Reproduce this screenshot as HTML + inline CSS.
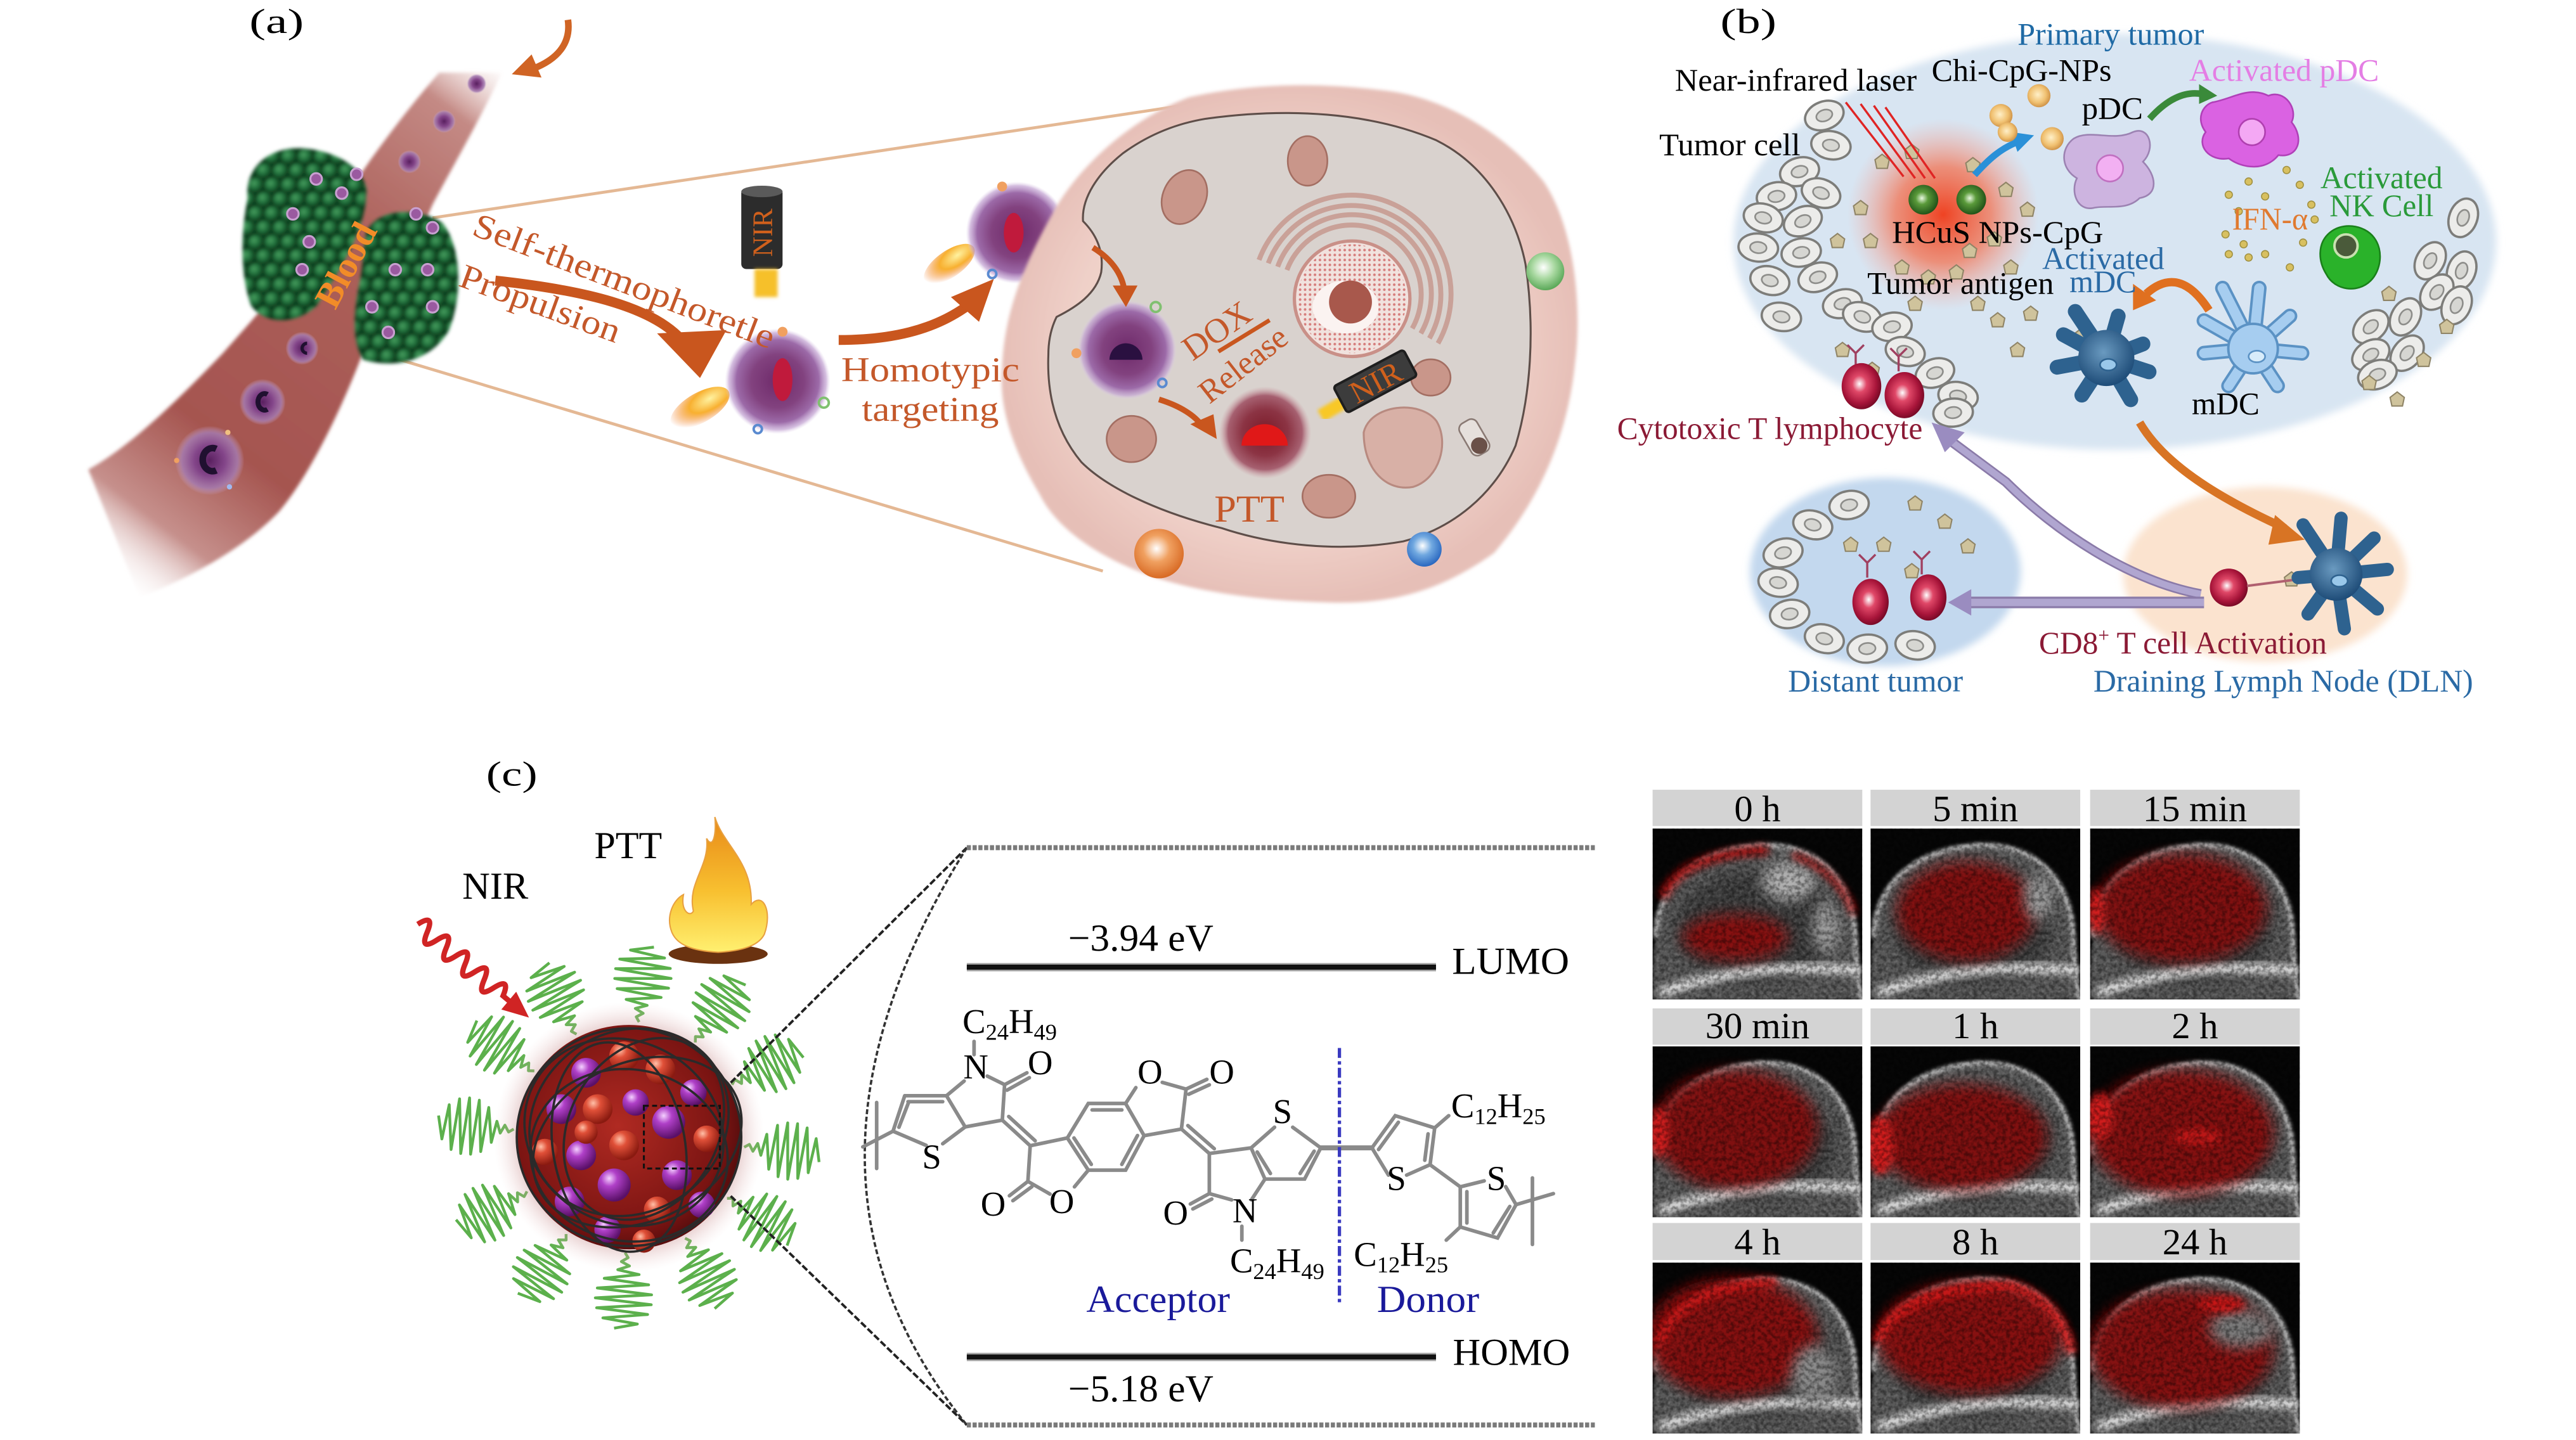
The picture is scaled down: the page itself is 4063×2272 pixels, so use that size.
<!DOCTYPE html>
<html><head><meta charset="utf-8">
<style>
html,body{margin:0;padding:0;background:#fff;}
svg{display:block;}
text{font-family:"Liberation Serif","Noto Serif CJK SC",serif;}
</style></head><body>
<svg width="4063" height="2272" viewBox="0 0 1560.3 872.5" preserveAspectRatio="none">
<defs>
<filter id="b1" x="-20%" y="-20%" width="140%" height="140%"><feGaussianBlur stdDeviation="1"/></filter>
<filter id="b2" x="-30%" y="-30%" width="160%" height="160%"><feGaussianBlur stdDeviation="2.2"/></filter>
<filter id="b4" x="-40%" y="-40%" width="180%" height="180%"><feGaussianBlur stdDeviation="4"/></filter>
<filter id="b6" x="-40%" y="-40%" width="180%" height="180%"><feGaussianBlur stdDeviation="6"/></filter>
<filter id="grainD" x="0" y="0" width="127" height="104" filterUnits="userSpaceOnUse"><feTurbulence type="fractalNoise" baseFrequency="0.4" numOctaves="2" seed="5"/><feColorMatrix type="matrix" values="0 0 0 0 0  0 0 0 0 0  0 0 0 0 0  2.6 0 0 0 -0.95"/></filter>
<filter id="grainW" x="0" y="0" width="127" height="104" filterUnits="userSpaceOnUse"><feTurbulence type="fractalNoise" baseFrequency="0.45" numOctaves="2" seed="11"/><feColorMatrix type="matrix" values="0 0 0 0 1  0 0 0 0 1  0 0 0 0 1  0 2.6 0 0 -1.15"/></filter>
<linearGradient id="vessel" gradientUnits="userSpaceOnUse" x1="300" y1="38" x2="62" y2="350">
 <stop offset="0" stop-color="#e0bdb9" stop-opacity="0"/>
 <stop offset="0.1" stop-color="#c48a85"/>
 <stop offset="0.35" stop-color="#ab5f59"/>
 <stop offset="0.72" stop-color="#a55550"/>
 <stop offset="0.88" stop-color="#c6908c"/>
 <stop offset="1" stop-color="#ffffff" stop-opacity="0"/>
</linearGradient>
<radialGradient id="gsph" cx="0.38" cy="0.35" r="0.65"><stop offset="0" stop-color="#4aa262"/><stop offset="0.55" stop-color="#1d6b38"/><stop offset="1" stop-color="#0b3519"/></radialGradient>
<pattern id="tumorPat" width="10" height="17.3" patternUnits="userSpaceOnUse">
 <rect width="10" height="17.3" fill="#0f3d1d"/>
 <circle cx="0" cy="0" r="4.8" fill="url(#gsph)"/><circle cx="10" cy="0" r="4.8" fill="url(#gsph)"/>
 <circle cx="5" cy="8.65" r="4.8" fill="url(#gsph)"/>
 <circle cx="0" cy="17.3" r="4.8" fill="url(#gsph)"/><circle cx="10" cy="17.3" r="4.8" fill="url(#gsph)"/>
</pattern>
<radialGradient id="pcell"><stop offset="0" stop-color="#5a2060"/><stop offset="0.45" stop-color="#84468a"/><stop offset="0.8" stop-color="#a47ab0" stop-opacity="0.85"/><stop offset="1" stop-color="#c8a8d0" stop-opacity="0"/></radialGradient>
<radialGradient id="np"><stop offset="0" stop-color="#6e2a6a"/><stop offset="0.5" stop-color="#82427f"/><stop offset="0.78" stop-color="#9c6aa8"/><stop offset="0.92" stop-color="#c2a2d2" stop-opacity="0.7"/><stop offset="1" stop-color="#e0d0ea" stop-opacity="0"/></radialGradient>
<radialGradient id="npr"><stop offset="0" stop-color="#7a1a28"/><stop offset="0.5" stop-color="#8c3444"/><stop offset="0.8" stop-color="#a66070"/><stop offset="1" stop-color="#d0a0a8" stop-opacity="0"/></radialGradient>
<radialGradient id="cellOut" cx="0.5" cy="0.5" r="0.5"><stop offset="0" stop-color="#f5e0d9"/><stop offset="0.75" stop-color="#efd0c8"/><stop offset="1" stop-color="#e6bfb7"/></radialGradient>
<radialGradient id="flame" cx="0.7" cy="0.4" r="0.7"><stop offset="0" stop-color="#fff2a0"/><stop offset="0.5" stop-color="#f8b030"/><stop offset="1" stop-color="#f07020" stop-opacity="0"/></radialGradient>
<radialGradient id="sGreen" cx="0.45" cy="0.4" r="0.6"><stop offset="0" stop-color="#ffffff"/><stop offset="0.5" stop-color="#a8d8a0"/><stop offset="1" stop-color="#5aa858"/></radialGradient>
<radialGradient id="sOrange" cx="0.45" cy="0.4" r="0.6"><stop offset="0" stop-color="#ffffff"/><stop offset="0.45" stop-color="#f0a060"/><stop offset="1" stop-color="#d86a24"/></radialGradient>
<radialGradient id="sBlue" cx="0.45" cy="0.4" r="0.6"><stop offset="0" stop-color="#ffffff"/><stop offset="0.45" stop-color="#70a8e0"/><stop offset="1" stop-color="#2a68c0"/></radialGradient>
<pattern id="rdots" width="3" height="3" patternUnits="userSpaceOnUse"><circle cx="1.5" cy="1.5" r="0.8" fill="#c84848"/></pattern>
<radialGradient id="glowRed"><stop offset="0" stop-color="#f03a18" stop-opacity="0.95"/><stop offset="0.5" stop-color="#f46a46" stop-opacity="0.7"/><stop offset="1" stop-color="#f8a090" stop-opacity="0"/></radialGradient>
<radialGradient id="ctl" cx="0.45" cy="0.45" r="0.6"><stop offset="0" stop-color="#ffffff"/><stop offset="0.3" stop-color="#e04868"/><stop offset="0.7" stop-color="#a8153a"/><stop offset="1" stop-color="#6a0620"/></radialGradient>
<radialGradient id="hcus" cx="0.45" cy="0.45" r="0.6"><stop offset="0" stop-color="#e8f8e0"/><stop offset="0.35" stop-color="#5a9a3a"/><stop offset="1" stop-color="#1a4a14"/></radialGradient>
<radialGradient id="cpg" cx="0.45" cy="0.45" r="0.6"><stop offset="0" stop-color="#fff0c8"/><stop offset="0.6" stop-color="#f0c070"/><stop offset="1" stop-color="#c88a40"/></radialGradient>
<radialGradient id="dcDark" cx="0.45" cy="0.4" r="0.6"><stop offset="0" stop-color="#6a9ac0"/><stop offset="1" stop-color="#1e4c78"/></radialGradient>
<radialGradient id="sphBase" cx="0.45" cy="0.45" r="0.55"><stop offset="0" stop-color="#b02a22"/><stop offset="0.85" stop-color="#7a1412"/><stop offset="1" stop-color="#5a0e0e"/></radialGradient>
<radialGradient id="halo"><stop offset="0.7" stop-color="#b06a6a" stop-opacity="0.7"/><stop offset="1" stop-color="#f0d0d0" stop-opacity="0"/></radialGradient>
<radialGradient id="rball" cx="0.35" cy="0.3" r="0.7"><stop offset="0" stop-color="#ffc0a8"/><stop offset="0.35" stop-color="#e05038"/><stop offset="1" stop-color="#8a1a10"/></radialGradient>
<radialGradient id="pball" cx="0.35" cy="0.3" r="0.7"><stop offset="0" stop-color="#f4d0ff"/><stop offset="0.35" stop-color="#b040c8"/><stop offset="1" stop-color="#5a1068"/></radialGradient>
<linearGradient id="fire" x1="0" y1="1" x2="0" y2="0"><stop offset="0" stop-color="#fff070"/><stop offset="0.45" stop-color="#f8c030"/><stop offset="1" stop-color="#e88a18"/></linearGradient>
<g id="tc"><ellipse rx="12" ry="8.5" fill="#ececea" stroke="#7d7d7a" stroke-width="1.4"/><ellipse rx="5" ry="3.4" fill="#d6d6d2" stroke="#8d8d8a" stroke-width="1"/></g>
<path id="ag" d="M0,-4.5 L4.3,-1.2 L3.2,4 L-3.2,4 L-4.3,-1.2 Z" fill="#cfc39c" stroke="#8f8466" stroke-width="0.8"/>
<path id="zz" d="M0,0 L3,-2 L5.5,2 L8,-3 L10.5,4 L13,-9 L16,12 L19,-15 L22,16 L25,-17 L28,17 L31,-17 L34,16 L37,-15 L40,12 L43,-9 L46,5" fill="none" stroke="#5cb04c" stroke-width="1.7" stroke-linejoin="round"/>
<clipPath id="tclip"><rect x="0" y="0" width="127" height="103.5"/></clipPath>
<clipPath id="domeclip"><path d="M2,66 C2,32 30,11 68,10 C100,10 118,30 122,56 C124,76 123,92 127,104 L0,104 L0,80 Z"/></clipPath>
<g id="tb">
 <rect width="127" height="104" fill="#060606"/>
 <path d="M2,66 C2,32 30,11 68,10 C100,10 118,30 122,56 C124,76 123,92 127,104 L0,104 L0,80 Z" fill="#5a5a5a" filter="url(#b1)"/>
 <path d="M2,66 C2,32 30,11 68,10 C100,10 118,30 122,56 C124,76 123,92 127,104" fill="none" stroke="#b4b4b4" stroke-width="3" filter="url(#b1)"/>
 <ellipse cx="62" cy="60" rx="48" ry="34" fill="#3c3c3c" filter="url(#b4)"/>
 <path d="M4,100 Q55,80 126,86" fill="none" stroke="#e6e6e6" stroke-width="6" filter="url(#b2)"/>
 <g clip-path="url(#domeclip)"><rect width="127" height="104" filter="url(#grainW)" opacity="0.12"/></g>
</g>
<g id="tn">
 <rect width="127" height="104" filter="url(#grainD)" opacity="0.4"/>
</g>
</defs>

<rect width="1560.3" height="872.5" fill="#fff"/>

<!-- ================= PANEL A ================= -->
<text x="151" y="20" font-size="21" textLength="33" lengthAdjust="spacingAndGlyphs">(a)</text>

<path d="M304,44 C292,70 272,105 262,124 C255,140 250,150 245,158 L219.7,214 C210,240 190,285 169,310 C150,330 120,348 84.5,362 L53.5,284.5 C80,270 110,240 135,214 C150,197 160,186 169,174.6 C188,150 205,125 225,96 C238,78 252,60 266,44 Z" fill="url(#vessel)" filter="url(#b1)"/>
<path d="M344,12 C346,26 338,36 322,42" fill="none" stroke="#d06424" stroke-width="4"/>
<polygon points="310,45 322,33 328,47" fill="#d06424"/>

<line x1="262" y1="132" x2="716" y2="64" stroke="#e4b894" stroke-width="1.8"/>
<line x1="239" y1="217" x2="668" y2="346" stroke="#e4b894" stroke-width="1.8"/>

<g>
 <circle cx="288.7" cy="50.7" r="6" fill="url(#pcell)"/>
 <circle cx="269" cy="73.5" r="7" fill="url(#pcell)"/>
 <circle cx="248" cy="98" r="7" fill="url(#pcell)"/>
 <circle cx="183" cy="211" r="10" fill="url(#pcell)"/>
 <circle cx="159" cy="243.6" r="14" fill="url(#pcell)"/>
 <circle cx="127" cy="279" r="21" fill="url(#pcell)"/>
 <path d="M186,208 a3,3 0 1 0 0,6" fill="none" stroke="#201030" stroke-width="2"/>
 <path d="M162,239 a4,5 0 1 0 0,9" fill="none" stroke="#201030" stroke-width="3"/>
 <path d="M131,272 a6,7 0 1 0 0,13" fill="none" stroke="#201030" stroke-width="4"/>
 <circle cx="138" cy="262" r="1.6" fill="#f0c080"/><circle cx="107" cy="279" r="1.6" fill="#f0a060"/><circle cx="139" cy="295" r="1.6" fill="#a0b8f0"/>
</g>

<g filter="url(#b1)">
<path d="M150,120 C148,100 165,88 185,90 C205,92 220,102 222,115 C222,140 205,165 192,185 C180,197 160,197 152,185 C145,165 146,140 150,120 Z" fill="url(#tumorPat)"/>
<path d="M222,140 C230,125 255,126 268,135 C280,150 280,180 272,200 C262,218 240,224 220,218 C212,205 215,185 218,170 C220,160 220,150 222,140 Z" fill="url(#tumorPat)"/>
</g>
<g fill="#9a5aa0" stroke="#c8a0d0" stroke-width="1.2">
 <circle cx="191.5" cy="108.4" r="3.5"/><circle cx="207" cy="117" r="3.5"/><circle cx="177.4" cy="129.6" r="3.5"/>
 <circle cx="187.3" cy="146.5" r="3.5"/><circle cx="183" cy="163.4" r="3.5"/><circle cx="262" cy="138" r="3.5"/>
 <circle cx="239.4" cy="163.4" r="3.5"/><circle cx="259" cy="163.4" r="3.5"/><circle cx="225.3" cy="185.9" r="3.5"/>
 <circle cx="262" cy="185.9" r="3.5"/><circle cx="235.2" cy="201.4" r="3.5"/><circle cx="252" cy="129.6" r="3.5"/>
 <circle cx="216" cy="105.6" r="3.5"/>
</g>
<text x="0" y="0" font-size="22" font-weight="bold" fill="#f28c28" text-anchor="middle" transform="translate(216,164) rotate(-62)">Blood</text>

<path d="M300,170 C355,176 395,186 413,206" fill="none" stroke="#c9561e" stroke-width="6"/>
<polygon points="398,202 440,200 424,229" fill="#c9561e"/>

<rect x="449" y="114" width="25" height="49" rx="3" fill="#2c2c2c"/>
<ellipse cx="461.5" cy="116" rx="12.5" ry="3.5" fill="#5a5a5a"/>
<rect x="457" y="163" width="14" height="17" fill="#f6c02c" filter="url(#b1)"/>
<text x="0" y="0" font-size="17" fill="#d0601c" text-anchor="middle" transform="translate(467.5,141) rotate(-90)">NIR</text>

<ellipse cx="424" cy="247" rx="20" ry="9" fill="url(#flame)" transform="rotate(-30 424 247)"/>
<circle cx="471" cy="231" r="32" fill="url(#np)"/>
<ellipse cx="474" cy="230" rx="6" ry="13" fill="#c01a3c"/>
<circle cx="474" cy="201" r="3" fill="#f0a060"/><circle cx="499" cy="244" r="3" fill="none" stroke="#80c070" stroke-width="1.5"/><circle cx="459" cy="260" r="2.5" fill="none" stroke="#5a8ad0" stroke-width="1.5"/>

<path d="M508,206 C540,206 565,200 585,186" fill="none" stroke="#c9561e" stroke-width="6"/>
<polygon points="576,180 602,169 593,195" fill="#c9561e"/>

<ellipse cx="575" cy="160" rx="18" ry="8" fill="url(#flame)" transform="rotate(-35 575 160)"/>
<circle cx="616" cy="141" r="31" fill="url(#np)"/>
<ellipse cx="614" cy="141" rx="6" ry="12" fill="#c01a3c"/>
<circle cx="607" cy="113" r="3" fill="#f0a060"/><circle cx="646" cy="153" r="3" fill="none" stroke="#80c070" stroke-width="1.5"/><circle cx="601" cy="166" r="2.5" fill="none" stroke="#5a8ad0" stroke-width="1.5"/>

<path d="M720,59 C760,50 800,50 840,55 C880,60 915,85 935,110 C955,140 958,190 954,220 C950,260 935,300 905,335 C870,360 840,366 805,365 C760,364 725,358 700,350 C665,338 640,320 630,300 C612,270 605,245 607,223 C608,190 620,160 640,125 C655,100 685,72 720,59 Z" fill="url(#cellOut)" filter="url(#b1)"/>
<path d="M730,72 C780,65 830,68 870,85 C900,100 918,130 924,160 C930,200 927,240 918,270 C905,300 880,320 850,328 C810,335 770,330 740,320 C700,310 670,295 655,280 C640,262 634,240 635,215 C635,205 637,198 640,192 C652,186 664,178 667,165 C669,150 662,140 656,134 C655,120 665,105 680,93 C695,82 712,75 730,72 Z" fill="#d9d2ce" stroke="#5e4e49" stroke-width="1.2"/>
<g fill="none" stroke="#c9a198" stroke-width="3">
 <path d="M779.5,163.6 A42,42 0 1 1 855.4,199"/>
 <path d="M773.9,161.6 A48,48 0 1 1 860.6,202"/>
 <path d="M768.2,159.5 A54,54 0 1 1 865.8,205"/>
 <path d="M762.6,157.5 A60,60 0 1 1 871,208"/>
</g>
<circle cx="819" cy="181" r="35" fill="#f1e2de" stroke="#c99088" stroke-width="2"/>
<circle cx="819" cy="181" r="33" fill="url(#rdots)" opacity="0.65"/>
<ellipse cx="815" cy="186" rx="20" ry="16" fill="#fbf3f1"/>
<circle cx="818" cy="183" r="13" fill="#a8584c"/>
<g fill="#c9968a" stroke="#a36e62" stroke-width="1">
 <ellipse cx="717.4" cy="119.4" rx="13" ry="17" transform="rotate(25 717.4 119.4)"/>
 <ellipse cx="792" cy="97.5" rx="12" ry="15"/>
 <ellipse cx="685.3" cy="266" rx="15" ry="14"/>
 <ellipse cx="804.9" cy="300.7" rx="16" ry="13"/>
 <ellipse cx="866.6" cy="228.7" rx="12" ry="11"/>
</g>
<path d="M826,262 C830,245 860,242 870,255 C878,268 872,290 856,295 C840,298 826,285 826,262 Z" fill="#d8b0a6" stroke="#b88a80" stroke-width="1.2"/>
<rect x="887" y="254" width="12" height="22" rx="4" fill="#e6e0dc" stroke="#8a7a74" transform="rotate(-30 893 265)"/>
<circle cx="896" cy="270" r="5" fill="#6a5048"/>
<circle cx="936" cy="164.4" r="11.5" fill="url(#sGreen)"/>
<circle cx="702" cy="335.4" r="15" fill="url(#sOrange)"/>
<circle cx="862.7" cy="332.8" r="10.5" fill="url(#sBlue)"/>
<circle cx="682.7" cy="212" r="30" fill="url(#np)"/>
<path d="M672,218 A10,10 0 0 1 692,218 Z" fill="#2a1040"/>
<circle cx="700" cy="186" r="3" fill="none" stroke="#80c070" stroke-width="1.5"/><circle cx="652" cy="214" r="3" fill="#f0a060"/><circle cx="704" cy="232" r="2.5" fill="none" stroke="#5a8ad0" stroke-width="1.5"/>
<circle cx="766.3" cy="262.1" r="28" fill="url(#npr)"/>
<path d="M752,270 A14,13 0 0 1 780,270 Z" fill="#e01818"/>
<path d="M662,150 C675,158 680,168 681,176" fill="none" stroke="#c9561e" stroke-width="3.5"/>
<polygon points="674,173 689,173 682,186" fill="#c9561e"/>
<path d="M702,242 C715,246 724,252 728,258" fill="none" stroke="#c9561e" stroke-width="3.5"/>
<polygon points="721,257 735,251 737,266" fill="#c9561e"/>
<line x1="738" y1="213" x2="769" y2="194" stroke="#c9561e" stroke-width="2.5"/>
<text x="0" y="0" font-size="21" fill="#c4582a" text-anchor="middle" transform="translate(741,206) rotate(-35)">DOX</text>
<text x="0" y="0" font-size="20" fill="#c4582a" text-anchor="middle" transform="translate(757,226) rotate(-38)">Release</text>
<line x1="800" y1="252" x2="815" y2="243" stroke="#f8c828" stroke-width="8" filter="url(#b1)"/>
<g transform="translate(833,231) rotate(-28)">
 <rect x="-24" y="-9" width="48" height="18" rx="2" fill="#3c3c3c" stroke="#1e1e1e" stroke-width="1.5"/>
 <text x="0" y="7" font-size="19" fill="#d0601c" text-anchor="middle">NIR</text>
</g>
<text x="735.5" y="316" font-size="23" fill="#c4582a" textLength="42.5" lengthAdjust="spacingAndGlyphs">PTT</text>

<text x="285" y="142" font-size="21" fill="#c4582a" textLength="194" lengthAdjust="spacingAndGlyphs" transform="rotate(21 285 142)">Self-thermophoretle</text>
<text x="277" y="173" font-size="21" fill="#c4582a" textLength="102" lengthAdjust="spacingAndGlyphs" transform="rotate(20 277 173)">Propulsion</text>
<text x="509.5" y="231" font-size="21" fill="#c4582a" textLength="108" lengthAdjust="spacingAndGlyphs">Homotypic</text>
<text x="522" y="255" font-size="21" fill="#c4582a" textLength="83" lengthAdjust="spacingAndGlyphs">targeting</text>

<!-- ================= PANEL B ================= -->
<text x="1042" y="20" font-size="21" textLength="34" lengthAdjust="spacingAndGlyphs">(b)</text>
<ellipse cx="1281" cy="146.5" rx="231" ry="126" fill="#d8e5f2" filter="url(#b2)"/>
<ellipse cx="1142" cy="346.5" rx="82" ry="57" fill="#c3d8ee" filter="url(#b2)"/>
<ellipse cx="1372" cy="348" rx="86" ry="53" fill="#fbe3cf" filter="url(#b2)"/>

<circle cx="1177" cy="130" r="58" fill="url(#glowRed)"/>

<use href="#tc" transform="translate(1105,70) rotate(-20)"/>
<use href="#tc" transform="translate(1109,88) rotate(10)"/>
<use href="#tc" transform="translate(1090,104) rotate(-15)"/>
<use href="#tc" transform="translate(1103,117) rotate(20)"/>
<use href="#tc" transform="translate(1076,119) rotate(-10)"/>
<use href="#tc" transform="translate(1068,132) rotate(15)"/>
<use href="#tc" transform="translate(1092,134) rotate(-25)"/>
<use href="#tc" transform="translate(1065,150) rotate(5)"/>
<use href="#tc" transform="translate(1091,153) rotate(-10)"/>
<use href="#tc" transform="translate(1072,170) rotate(15)"/>
<use href="#tc" transform="translate(1101,168) rotate(-20)"/>
<use href="#tc" transform="translate(1079,192) rotate(10)"/>
<use href="#tc" transform="translate(1116,184) rotate(-15)"/>
<use href="#tc" transform="translate(1128,192) rotate(20)"/>
<use href="#tc" transform="translate(1146,198) rotate(-10)"/>
<use href="#tc" transform="translate(1154,213) rotate(15)"/>
<use href="#tc" transform="translate(1172,226) rotate(-20)"/>
<use href="#tc" transform="translate(1186,240) rotate(10)"/>
<use href="#tc" transform="translate(1183,250) rotate(-5)"/>
<use href="#tc" transform="translate(1492,132) rotate(-70)"/>
<use href="#tc" transform="translate(1472,158) rotate(-60)"/>
<use href="#tc" transform="translate(1491,164) rotate(-70)"/>
<use href="#tc" transform="translate(1476,177) rotate(-50)"/>
<use href="#tc" transform="translate(1457,192) rotate(-60)"/>
<use href="#tc" transform="translate(1488,185) rotate(-65)"/>
<use href="#tc" transform="translate(1436,198) rotate(-40)"/>
<use href="#tc" transform="translate(1436,215) rotate(-30)"/>
<use href="#tc" transform="translate(1458,214) rotate(-50)"/>
<use href="#tc" transform="translate(1440,227) rotate(-20)"/>
<use href="#tc" transform="translate(1120,306) rotate(-10)"/>
<use href="#tc" transform="translate(1098,318) rotate(15)"/>
<use href="#tc" transform="translate(1080,335) rotate(-15)"/>
<use href="#tc" transform="translate(1077,353) rotate(10)"/>
<use href="#tc" transform="translate(1084,372) rotate(-10)"/>
<use href="#tc" transform="translate(1105,387) rotate(15)"/>
<use href="#tc" transform="translate(1131,393) rotate(-5)"/>
<use href="#tc" transform="translate(1160,391) rotate(10)"/>

<use href="#ag" x="1140" y="98"/><use href="#ag" x="1158" y="92"/><use href="#ag" x="1195" y="100"/>
<use href="#ag" x="1215" y="115"/><use href="#ag" x="1127" y="126"/><use href="#ag" x="1133" y="146"/>
<use href="#ag" x="1152" y="162"/><use href="#ag" x="1168" y="168"/><use href="#ag" x="1185" y="165"/>
<use href="#ag" x="1208" y="145"/><use href="#ag" x="1218" y="162"/><use href="#ag" x="1230" y="190"/>
<use href="#ag" x="1210" y="194"/><use href="#ag" x="1222" y="212"/><use href="#ag" x="1116" y="212"/>
<use href="#ag" x="1134" y="224"/><use href="#ag" x="1260" y="204"/><use href="#ag" x="1228" y="127"/>
<use href="#ag" x="1193" y="152"/><use href="#ag" x="1435" y="232"/><use href="#ag" x="1452" y="242"/>
<use href="#ag" x="1468" y="218"/><use href="#ag" x="1447" y="178"/><use href="#ag" x="1482" y="198"/>
<use href="#ag" x="1160" y="184"/><use href="#ag" x="1198" y="184"/><use href="#ag" x="1113" y="146"/>
<use href="#ag" x="1160" y="305"/><use href="#ag" x="1178" y="316"/><use href="#ag" x="1192" y="331"/>
<use href="#ag" x="1121" y="330"/><use href="#ag" x="1141" y="330"/><use href="#ag" x="1158" y="346"/>
<use href="#ag" x="1388" y="351"/>

<g stroke="#e02424" stroke-width="1.3">
 <line x1="1118" y1="62" x2="1153" y2="107"/><line x1="1127" y1="63" x2="1160" y2="108"/>
 <line x1="1135" y1="64" x2="1166" y2="108"/><line x1="1142" y1="65" x2="1172" y2="108"/>
</g>
<circle cx="1165" cy="121" r="9" fill="url(#hcus)"/>
<circle cx="1194" cy="121" r="9" fill="url(#hcus)"/>
<path d="M1196,106 C1205,96 1212,90 1222,86" fill="none" stroke="#2a90d8" stroke-width="4"/>
<polygon points="1218,80 1232,82 1222,92" fill="#2a90d8"/>
<circle cx="1212" cy="70" r="7" fill="url(#cpg)"/><circle cx="1235" cy="58" r="7" fill="url(#cpg)"/>
<circle cx="1243" cy="84" r="7" fill="url(#cpg)"/><circle cx="1216" cy="80" r="6" fill="url(#cpg)"/>
<path d="M1256,84 C1266,78 1280,86 1292,80 C1302,76 1306,90 1298,98 C1306,106 1308,118 1296,120 C1288,128 1276,124 1268,126 C1258,128 1254,116 1258,108 C1248,102 1248,90 1256,84 Z" fill="#cdb4e0" stroke="#9c82b2" stroke-width="1"/>
<circle cx="1278" cy="102" r="8" fill="#f2b0f2" stroke="#c070c0"/>
<path d="M1302,72 Q1318,54 1334,57" fill="none" stroke="#3a8a3a" stroke-width="4"/>
<polygon points="1332,51 1343,58 1332,63" fill="#3a8a3a"/>
<path d="M1340,62 C1352,60 1362,52 1374,58 C1384,54 1392,66 1388,74 C1396,84 1392,96 1380,94 C1372,104 1358,102 1350,96 C1338,98 1330,88 1336,80 C1330,72 1334,64 1340,62 Z" fill="#da62e2" stroke="#b040b8" stroke-width="1"/>
<circle cx="1364" cy="80" r="8" fill="#f4a8f4" stroke="#b040b0"/>
<g fill="#d8c060" stroke="#a09040" stroke-width="0.6">
 <circle cx="1350" cy="118" r="2.2"/><circle cx="1356" cy="128" r="2.2"/><circle cx="1362" cy="110" r="2.2"/>
 <circle cx="1372" cy="119" r="2.2"/><circle cx="1385" cy="103" r="2.2"/><circle cx="1393" cy="112" r="2.2"/>
 <circle cx="1348" cy="142" r="2.2"/><circle cx="1359" cy="148" r="2.2"/><circle cx="1350" cy="154" r="2.2"/>
 <circle cx="1362" cy="156" r="2.2"/><circle cx="1372" cy="154" r="2.2"/><circle cx="1400" cy="124" r="2.2"/>
 <circle cx="1402" cy="133" r="2.2"/><circle cx="1395" cy="147" r="2.2"/><circle cx="1387" cy="162" r="2.2"/>
</g>
<path d="M1410,142 C1418,134 1432,136 1438,144 C1444,152 1442,164 1436,170 C1428,178 1414,176 1409,166 C1404,158 1404,148 1410,142 Z" fill="#2ab22a" stroke="#1a801a" stroke-width="1"/>
<circle cx="1421" cy="149" r="7" fill="#4a5a3a" stroke="#c8e0b0" stroke-width="1.5"/>
<g stroke="#2e628f" stroke-width="9" stroke-linecap="round">
 <line x1="1275.8" y1="216.9" x2="1257" y2="188.7"/><line x1="1275.8" y1="216.9" x2="1283" y2="191.5"/>
 <line x1="1275.8" y1="216.9" x2="1298" y2="208.4"/><line x1="1275.8" y1="216.9" x2="1301.7" y2="225.3"/>
 <line x1="1275.8" y1="216.9" x2="1290.6" y2="242.2"/><line x1="1275.8" y1="216.9" x2="1261" y2="239.4"/>
 <line x1="1275.8" y1="216.9" x2="1246" y2="222.5"/><line x1="1275.8" y1="216.9" x2="1249.8" y2="202.8"/>
</g>
<circle cx="1275.8" cy="216.9" r="17" fill="url(#dcDark)"/>
<ellipse cx="1277" cy="221" rx="5" ry="3.5" fill="#9ac8ea" stroke="#2e628f"/>
<g stroke="#5b92c4" stroke-width="9" stroke-linecap="round">
 <line x1="1364.7" y1="211.2" x2="1346.2" y2="174.6"/><line x1="1364.7" y1="211.2" x2="1368.4" y2="174.6"/>
 <line x1="1364.7" y1="211.2" x2="1387" y2="191.5"/><line x1="1364.7" y1="211.2" x2="1394.3" y2="214"/>
 <line x1="1364.7" y1="211.2" x2="1379.5" y2="233.8"/><line x1="1364.7" y1="211.2" x2="1349.9" y2="233.8"/>
 <line x1="1364.7" y1="211.2" x2="1335" y2="214"/><line x1="1364.7" y1="211.2" x2="1335" y2="194.3"/>
</g>
<g stroke="#a6cdf0" stroke-width="6" stroke-linecap="round">
 <line x1="1364.7" y1="211.2" x2="1346.2" y2="174.6"/><line x1="1364.7" y1="211.2" x2="1368.4" y2="174.6"/>
 <line x1="1364.7" y1="211.2" x2="1387" y2="191.5"/><line x1="1364.7" y1="211.2" x2="1394.3" y2="214"/>
 <line x1="1364.7" y1="211.2" x2="1379.5" y2="233.8"/><line x1="1364.7" y1="211.2" x2="1349.9" y2="233.8"/>
 <line x1="1364.7" y1="211.2" x2="1335" y2="214"/><line x1="1364.7" y1="211.2" x2="1335" y2="194.3"/>
</g>
<circle cx="1364.7" cy="211.2" r="15" fill="#a6cdf0" stroke="#5b92c4" stroke-width="1.5"/>
<ellipse cx="1367" cy="216" rx="5" ry="3.5" fill="#d8ecfa" stroke="#5b92c4"/>
<path d="M1338,188 Q1320,160 1300,178" fill="none" stroke="#e07020" stroke-width="5"/>
<polygon points="1292,172 1306,182 1292,188" fill="#e07020"/>
<g stroke="#a04060" stroke-width="1.3" fill="none">
 <path d="M1124,222 L1124,214 M1124,214 L1119,209 M1124,214 L1129,209"/>
 <path d="M1150,225 L1150,216 M1150,216 L1145,211 M1150,216 L1155,211"/>
</g>
<ellipse cx="1127.5" cy="234" rx="12" ry="14" fill="url(#ctl)"/>
<ellipse cx="1153.5" cy="239.4" rx="12" ry="14" fill="url(#ctl)"/>
<g stroke="#a04060" stroke-width="1.3" fill="none">
 <path d="M1131,350 L1131,341 M1131,341 L1126,336 M1131,341 L1136,336"/>
 <path d="M1164,348 L1164,339 M1164,339 L1159,334 M1164,339 L1169,334"/>
</g>
<ellipse cx="1133" cy="364.7" rx="11" ry="14" fill="url(#ctl)"/>
<ellipse cx="1168" cy="362" rx="11" ry="14" fill="url(#ctl)"/>
<path d="M1296,256 C1310,280 1340,300 1384,320" fill="none" stroke="#d87424" stroke-width="5"/>
<polygon points="1378,312 1396,327 1374,330" fill="#d87424"/>
<path d="M1333,360 C1290,352 1245,322 1215,292 L1180,266" fill="none" stroke="#8a7aa8" stroke-width="6"/>
<path d="M1333,360 C1290,352 1245,322 1215,292 L1180,266" fill="none" stroke="#b0a6d0" stroke-width="4"/>
<polygon points="1170,256 1190,262 1178,274" fill="#9a8cc0"/>
<line x1="1335" y1="365" x2="1190" y2="365" stroke="#8a7aa8" stroke-width="7"/>
<line x1="1335" y1="365" x2="1190" y2="365" stroke="#b0a6d0" stroke-width="4.5"/>
<polygon points="1180,365 1194,357 1194,373" fill="#9a8cc0"/>
<circle cx="1350" cy="356" r="11.5" fill="url(#ctl)"/>
<line x1="1361" y1="355" x2="1392" y2="351" stroke="#b06070" stroke-width="1.5"/>
<g stroke="#2e628f" stroke-width="8" stroke-linecap="round">
 <line x1="1415" y1="348" x2="1395" y2="318"/><line x1="1415" y1="348" x2="1418" y2="314"/>
 <line x1="1415" y1="348" x2="1438" y2="326"/><line x1="1415" y1="348" x2="1446" y2="345"/>
 <line x1="1415" y1="348" x2="1440" y2="369"/><line x1="1415" y1="348" x2="1420" y2="381"/>
 <line x1="1415" y1="348" x2="1398" y2="372"/><line x1="1415" y1="348" x2="1392" y2="350"/>
</g>
<circle cx="1415" cy="348" r="16" fill="url(#dcDark)"/>
<ellipse cx="1417" cy="352" rx="5" ry="3.5" fill="#9ac8ea" stroke="#2e628f"/>

<g font-size="19">
<text x="1222" y="27" fill="#1f6aa5" textLength="113" lengthAdjust="spacingAndGlyphs">Primary tumor</text>
<text x="1170" y="49" fill="#000" textLength="109" lengthAdjust="spacingAndGlyphs">Chi-CpG-NPs</text>
<text x="1014.5" y="55" fill="#000" textLength="146.5" lengthAdjust="spacingAndGlyphs">Near-infrared laser</text>
<text x="1326" y="49" fill="#e47ee4" textLength="115" lengthAdjust="spacingAndGlyphs">Activated pDC</text>
<text x="1261" y="72" fill="#000" textLength="37" lengthAdjust="spacingAndGlyphs">pDC</text>
<text x="1005" y="94" fill="#000" textLength="85.5" lengthAdjust="spacingAndGlyphs">Tumor cell</text>
<text x="1405.5" y="114" fill="#2a9a3a" textLength="74" lengthAdjust="spacingAndGlyphs">Activated</text>
<text x="1411" y="131" fill="#2a9a3a" textLength="63" lengthAdjust="spacingAndGlyphs">NK Cell</text>
<text x="1352" y="139" fill="#e07a30" textLength="46" lengthAdjust="spacingAndGlyphs">IFN-α</text>
<text x="1146" y="147" fill="#000" textLength="128" lengthAdjust="spacingAndGlyphs">HCuS NPs-CpG</text>
<text x="1237" y="163" fill="#2a6aa5" textLength="74" lengthAdjust="spacingAndGlyphs">Activated</text>
<text x="1131" y="178" fill="#000" textLength="113" lengthAdjust="spacingAndGlyphs">Tumor antigen</text>
<text x="1253.5" y="177" fill="#2a6aa5" textLength="40.5" lengthAdjust="spacingAndGlyphs">mDC</text>
<text x="1327.6" y="251" fill="#000" textLength="41" lengthAdjust="spacingAndGlyphs">mDC</text>
<text x="979.5" y="266" fill="#8b1a35" textLength="185" lengthAdjust="spacingAndGlyphs">Cytotoxic T lymphocyte</text>
<text x="1235" y="396" fill="#8b1a35">CD8<tspan font-size="12" dy="-7">+</tspan><tspan dy="7"> T cell Activation</tspan></text>
<text x="1083" y="419" fill="#2a6aa5" textLength="106" lengthAdjust="spacingAndGlyphs">Distant tumor</text>
<text x="1268" y="419" fill="#2a6aa5" textLength="230" lengthAdjust="spacingAndGlyphs">Draining Lymph Node (DLN)</text>
</g>

<!-- ================= PANEL C ================= -->
<text x="294.5" y="476" font-size="21" textLength="31" lengthAdjust="spacingAndGlyphs">(c)</text>
<text x="360" y="520" font-size="23" textLength="41" lengthAdjust="spacingAndGlyphs">PTT</text>
<text x="280" y="544.5" font-size="23" textLength="40" lengthAdjust="spacingAndGlyphs">NIR</text>

<ellipse cx="435" cy="578" rx="30" ry="6" fill="#6a3210"/>
<path d="M433,495 C438,512 456,522 455,548 C462,540 468,552 463,566 C460,572 452,576 435,577 C418,576 410,572 407,565 C403,555 408,545 414,542 C412,552 418,556 420,552 C416,535 430,525 428,508 C432,515 434,505 433,495 Z" fill="url(#fire)" stroke="#e8a040" stroke-width="0.8"/>

<g transform="translate(253,560) rotate(40)">
 <path d="M0,0 Q3.75,-12 7.5,0 T15,0 T22.5,0 T30,0 T37.5,0 T45,0 T52.5,0 T60,0 T67.5,0 L74,0" fill="none" stroke="#d02424" stroke-width="3.2"/>
 <polygon points="72,-7 88,0 72,7" fill="#d02424"/>
</g>

<g>
<use href="#zz" transform="translate(381,689) rotate(5) translate(70,0)"/>
<use href="#zz" transform="translate(381,689) rotate(32) translate(70,0)"/>
<use href="#zz" transform="translate(381,689) rotate(61) translate(70,0)"/>
<use href="#zz" transform="translate(381,689) rotate(92) translate(70,0)"/>
<use href="#zz" transform="translate(381,689) rotate(123) translate(70,0)"/>
<use href="#zz" transform="translate(381,689) rotate(152) translate(70,0)"/>
<use href="#zz" transform="translate(381,689) rotate(184) translate(70,0)"/>
<use href="#zz" transform="translate(381,689) rotate(215) translate(70,0)"/>
<use href="#zz" transform="translate(381,689) rotate(243) translate(70,0)"/>
<use href="#zz" transform="translate(381,689) rotate(275) translate(70,0)"/>
<use href="#zz" transform="translate(381,689) rotate(305) translate(70,0)"/>
<use href="#zz" transform="translate(381,689) rotate(333) translate(70,0)"/>
</g>

<circle cx="381" cy="689" r="82" fill="url(#halo)"/>
<circle cx="381" cy="689" r="68" fill="url(#sphBase)"/>
<g>
 <circle cx="355" cy="650" r="9" fill="url(#pball)"/><circle cx="378" cy="640" r="9" fill="url(#rball)"/>
 <circle cx="400" cy="648" r="9" fill="url(#rball)"/><circle cx="420" cy="662" r="8" fill="url(#pball)"/>
 <circle cx="340" cy="672" r="9" fill="url(#pball)"/><circle cx="362" cy="672" r="9" fill="url(#rball)"/>
 <circle cx="385" cy="668" r="8" fill="url(#pball)"/><circle cx="405" cy="680" r="10" fill="url(#pball)"/>
 <circle cx="428" cy="690" r="8" fill="url(#rball)"/><circle cx="330" cy="698" r="8" fill="url(#rball)"/>
 <circle cx="352" cy="700" r="9" fill="url(#pball)"/><circle cx="378" cy="694" r="9" fill="url(#rball)"/>
 <circle cx="372" cy="718" r="10" fill="url(#pball)"/><circle cx="410" cy="712" r="9" fill="url(#pball)"/>
 <circle cx="398" cy="733" r="8" fill="url(#rball)"/><circle cx="345" cy="728" r="9" fill="url(#pball)"/>
 <circle cx="368" cy="745" r="8" fill="url(#pball)"/><circle cx="425" cy="730" r="8" fill="url(#pball)"/>
 <circle cx="355" cy="686" r="7" fill="url(#rball)"/><circle cx="390" cy="752" r="7" fill="url(#rball)"/>
</g>
<g fill="none" stroke="#2a2a2a" stroke-width="1.4">
 <ellipse cx="381" cy="689" rx="68" ry="66"/>
 <ellipse cx="378" cy="686" rx="62" ry="55" transform="rotate(30 378 686)"/>
 <ellipse cx="386" cy="692" rx="66" ry="48" transform="rotate(-25 386 692)"/>
 <ellipse cx="381" cy="680" rx="55" ry="62" transform="rotate(60 381 680)"/>
 <ellipse cx="375" cy="695" rx="64" ry="40" transform="rotate(80 375 695)"/>
 <ellipse cx="390" cy="684" rx="58" ry="45" transform="rotate(-60 390 684)"/>
 <ellipse cx="381" cy="700" rx="60" ry="52" transform="rotate(10 381 700)"/>
</g>
<rect x="390" y="670" width="46" height="38" fill="none" stroke="#111" stroke-width="1.2" stroke-dasharray="3 2"/>

<line x1="442.6" y1="656" x2="585.6" y2="513.6" stroke="#222" stroke-width="1.5" stroke-dasharray="4 1.5"/>
<line x1="442.6" y1="724.7" x2="585.6" y2="863.4" stroke="#222" stroke-width="1.5" stroke-dasharray="4 1.5"/>
<path d="M585.6,513.6 Q462,711.5 585.6,863.4" fill="none" stroke="#333" stroke-width="1.4" stroke-dasharray="3 1.5"/>
<line x1="585.6" y1="513.6" x2="966" y2="513.6" stroke="#7a7a7a" stroke-width="3" stroke-dasharray="2.5 1"/>
<line x1="585.6" y1="863.4" x2="966" y2="863.4" stroke="#7a7a7a" stroke-width="3" stroke-dasharray="2.5 1"/>

<line x1="585.6" y1="586" x2="869.8" y2="586" stroke="#a0a0a0" stroke-width="5"/>
<line x1="585.6" y1="586" x2="869.8" y2="586" stroke="#111" stroke-width="3"/>
<line x1="585.6" y1="822.2" x2="869.8" y2="822.2" stroke="#a0a0a0" stroke-width="5"/>
<line x1="585.6" y1="822.2" x2="869.8" y2="822.2" stroke="#111" stroke-width="3"/>
<g font-size="23">
<text x="647" y="576" textLength="88" lengthAdjust="spacingAndGlyphs">−3.94 eV</text>
<text x="879.5" y="590" textLength="71" lengthAdjust="spacingAndGlyphs">LUMO</text>
<text x="880" y="827" textLength="71" lengthAdjust="spacingAndGlyphs">HOMO</text>
<text x="647" y="849" textLength="88" lengthAdjust="spacingAndGlyphs">−5.18 eV</text>
</g>

<g stroke="#8a8a8a" stroke-width="2.2" fill="none" stroke-linecap="round">
 <path d="M548,663.9 L573.3,663.9 L584.6,682.8 L571,693 M561,694 L540.9,685.4 L548,663.9"/>
 <path d="M550,667.5 L571,667.5 M544.5,683 L550.5,667.5"/>
 <path d="M540.9,685.4 L522.6,694.9 M531,668 L531,708"/>
 <path d="M573.3,663.9 L584,655 M590,639 L590,631 M598,652 L608.5,657.2"/>
 <path d="M608.5,657.2 L622,650 M610,660.5 L623.5,653"/>
 <path d="M608.5,657.2 L607.1,678.7 M584.6,682.8 L607.1,678.7"/>
 <path d="M607.1,678.7 L624,694.2 M611,676.5 L627,691.2"/>
 <path d="M624,694.2 L646.5,689.5 M624,694.2 L622.6,715.8"/>
 <path d="M622.6,715.8 L611.4,724.5 M625,719 L613.5,727.5 M622.6,715.8 L636,723.5 M650.8,719.1 L659.2,709"/>
 <path d="M646.5,689.5 L659.2,668.6 L681.8,668.6 L693,688.1 L681.8,709 L659.2,709 Z"/>
 <path d="M661.5,672.5 L679.5,672.5 M689,688 L679.5,705.5 M661,705.5 L650.5,689.5"/>
 <path d="M681.8,668.6 L688,659 M704,655.8 L718.4,659.9"/>
 <path d="M718.4,659.9 L731,654 M720,663 L732.5,657.3"/>
 <path d="M718.4,659.9 L715.6,684.1 M693,688.1 L715.6,684.1"/>
 <path d="M715.6,684.1 L732.5,698.9 M719.5,682 L735.5,696"/>
 <path d="M732.5,698.9 L732.5,723.2 M732.5,723.2 L721,729.5 M734,726.5 L722.5,732.5 M732.5,723.2 L746,727"/>
 <path d="M752.2,743 L752.2,751.4 M758,727 L766.2,714.4"/>
 <path d="M732.5,698.9 L757.8,695.5 L772,683 M783,683 L800,695.5 L790.2,714.4 L766.2,714.4 L757.8,695.5"/>
 <path d="M761.5,698 L769.5,711 M796,697.5 L787.5,711"/>
 <path d="M800,695.5 L831,695.5" stroke-width="3"/>
 <path d="M831,695.5 L845.1,676 L869,683.4 L866.2,705.7 L852,712 M841,712 L831,695.5"/>
 <path d="M835,696.5 L847,680 M865,687 L863,703"/>
 <path d="M869,683.4 L877.5,676 M866.2,705.7 L884.5,719.1"/>
 <path d="M884.5,719.1 L899,715.5 M912,719 L918.3,729.9 L907.1,750.1 L884.5,743.4 L884.5,719.1"/>
 <path d="M888.5,741 L888.5,722 M914.5,731 L904.5,747"/>
 <path d="M884.5,743.4 L876,751.4 M918.3,729.9 L940.9,723.2 M928.2,713.7 L928.2,754"/>
</g>
<g font-size="21" fill="#000">
 <text x="583" y="626">C<tspan font-size="14" dy="4">24</tspan><tspan dy="-4">H</tspan><tspan font-size="14" dy="4">49</tspan></text>
 <text x="583.5" y="653.5">N</text>
 <text x="622.5" y="651">O</text>
 <text x="558.5" y="708">S</text>
 <text x="594" y="736.5">O</text>
 <text x="635.5" y="735">O</text>
 <text x="689" y="656.5">O</text>
 <text x="732.5" y="656.5">O</text>
 <text x="704.5" y="742">O</text>
 <text x="746.5" y="740.5">N</text>
 <text x="745" y="771">C<tspan font-size="14" dy="4">24</tspan><tspan dy="-4">H</tspan><tspan font-size="14" dy="4">49</tspan></text>
 <text x="771" y="680.5">S</text>
 <text x="840" y="721">S</text>
 <text x="879" y="677">C<tspan font-size="14" dy="4">12</tspan><tspan dy="-4">H</tspan><tspan font-size="14" dy="4">25</tspan></text>
 <text x="900.5" y="721">S</text>
 <text x="820" y="767">C<tspan font-size="14" dy="4">12</tspan><tspan dy="-4">H</tspan><tspan font-size="14" dy="4">25</tspan></text>
</g>
<line x1="811.3" y1="635" x2="811.3" y2="790" stroke="#3a3ac0" stroke-width="2" stroke-dasharray="6 2 2 2"/>
<text x="658" y="795" font-size="23" fill="#1a1a9a" textLength="87" lengthAdjust="spacingAndGlyphs">Acceptor</text>
<text x="834" y="795" font-size="23" fill="#1a1a9a" textLength="62" lengthAdjust="spacingAndGlyphs">Donor</text>

<!-- ================= IMAGE GRID ================= -->
<g fill="#d3d3d3">
 <rect x="1001" y="478.5" width="127" height="22"/><rect x="1133" y="478.5" width="127" height="22"/><rect x="1266" y="478.5" width="127" height="22"/>
 <rect x="1001" y="611" width="127" height="22"/><rect x="1133" y="611" width="127" height="22"/><rect x="1266" y="611" width="127" height="22"/>
 <rect x="1001" y="741" width="127" height="22.5"/><rect x="1133" y="741" width="127" height="22.5"/><rect x="1266" y="741" width="127" height="22.5"/>
</g>
<g font-size="22.5" text-anchor="middle">
 <text x="1064.5" y="497.5">0 h</text><text x="1196.5" y="497.5">5 min</text><text x="1329.5" y="497.5">15 min</text>
 <text x="1064.5" y="629">30 min</text><text x="1196.5" y="629">1 h</text><text x="1329.5" y="629">2 h</text>
 <text x="1064.5" y="760">4 h</text><text x="1196.5" y="760">8 h</text><text x="1329.5" y="760">24 h</text>
</g>

<g transform="translate(1001,502)" clip-path="url(#tclip)">
 <use href="#tb"/>
 <ellipse cx="82" cy="32" rx="16" ry="12" fill="#b0b0b0" filter="url(#b4)"/>
 <ellipse cx="105" cy="60" rx="8" ry="16" fill="#a0a0a0" filter="url(#b4)"/>
 <path d="M6,42 C14,22 40,14 70,13" fill="none" stroke="#a00e0e" stroke-width="6" filter="url(#b2)"/>
 <path d="M85,16 C105,22 118,38 122,52" fill="none" stroke="#a00e0e" stroke-width="4" filter="url(#b2)"/>
 <ellipse cx="50" cy="66" rx="32" ry="14" fill="#8c0c0c" opacity="0.92" filter="url(#b4)"/>
 <use href="#tn"/>
</g>
<g transform="translate(1133,502)" clip-path="url(#tclip)">
 <use href="#tb"/>
 <ellipse cx="58" cy="50" rx="42" ry="30" fill="#860c0c" opacity="0.92" filter="url(#b4)"/>
 <ellipse cx="102" cy="42" rx="9" ry="14" fill="#9a9a9a" filter="url(#b4)"/>
 <use href="#tn"/>
</g>
<g transform="translate(1266,502)" clip-path="url(#tclip)">
 <use href="#tb"/>
 <ellipse cx="55" cy="48" rx="52" ry="33" fill="#860c0c" opacity="0.92" filter="url(#b4)"/>
 <ellipse cx="4" cy="50" rx="5" ry="14" fill="#d01c1c" filter="url(#b2)"/>
 <use href="#tn"/>
</g>
<g transform="translate(1001,634)" clip-path="url(#tclip)">
 <use href="#tb"/>
 <ellipse cx="50" cy="50" rx="50" ry="36" fill="#860c0c" opacity="0.92" filter="url(#b4)"/>
 <ellipse cx="4" cy="52" rx="6" ry="15" fill="#d01c1c" filter="url(#b2)"/>
 <use href="#tn"/>
</g>
<g transform="translate(1133,634)" clip-path="url(#tclip)">
 <use href="#tb"/>
 <ellipse cx="55" cy="55" rx="52" ry="32" fill="#860c0c" opacity="0.92" filter="url(#b4)"/>
 <ellipse cx="6" cy="60" rx="8" ry="18" fill="#d01c1c" filter="url(#b2)"/>
 <use href="#tn"/>
</g>
<g transform="translate(1266,634)" clip-path="url(#tclip)">
 <use href="#tb"/>
 <ellipse cx="55" cy="52" rx="56" ry="38" fill="#8a0c0c" opacity="0.92" filter="url(#b4)"/>
 <ellipse cx="6" cy="42" rx="8" ry="14" fill="#d01c1c" filter="url(#b2)"/>
 <ellipse cx="65" cy="55" rx="15" ry="5" fill="#c01818" filter="url(#b2)"/>
 <use href="#tn"/>
</g>
<g transform="translate(1001,765)" clip-path="url(#tclip)">
 <use href="#tb"/>
 <ellipse cx="48" cy="45" rx="52" ry="36" fill="#8c0c0c" opacity="0.93" filter="url(#b4)"/>
 <path d="M4,50 C10,25 40,12 75,12" fill="none" stroke="#c81616" stroke-width="6" filter="url(#b2)"/>
 <ellipse cx="98" cy="68" rx="14" ry="18" fill="#8a8a8a" filter="url(#b4)"/>
 <use href="#tn"/>
</g>
<g transform="translate(1133,765)" clip-path="url(#tclip)">
 <use href="#tb"/>
 <ellipse cx="60" cy="45" rx="56" ry="34" fill="#8c0c0c" opacity="0.93" filter="url(#b4)"/>
 <path d="M4,48 C12,25 45,14 85,14 C105,20 118,35 122,55" fill="none" stroke="#d01818" stroke-width="6" filter="url(#b2)"/>
 <use href="#tn"/>
</g>
<g transform="translate(1266,765)" clip-path="url(#tclip)">
 <use href="#tb"/>
 <ellipse cx="55" cy="52" rx="56" ry="36" fill="#8a0c0c" opacity="0.92" filter="url(#b4)"/>
 <ellipse cx="92" cy="40" rx="20" ry="12" fill="#7a7a7a" filter="url(#b4)"/>
 <ellipse cx="80" cy="25" rx="14" ry="5" fill="#c81818" filter="url(#b2)"/>
 <use href="#tn"/>
</g>
</svg>
</body></html>
